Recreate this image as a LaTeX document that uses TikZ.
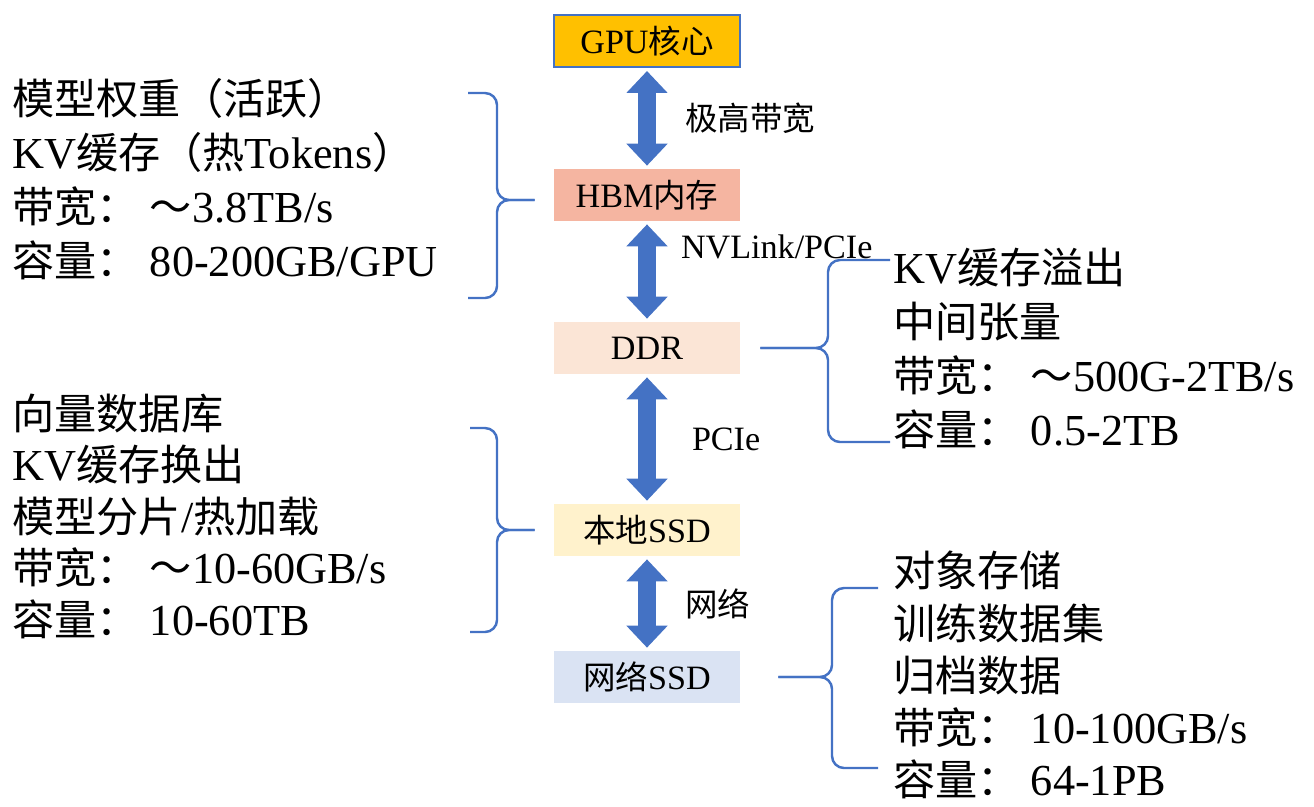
\documentclass[tikz,border=0pt]{standalone}
\usepackage{fontspec}
\setmainfont{Liberation Serif}[Scale=1.05]
\newfontfamily\cjk{Noto Sans CJK SC}
\newcommand{\zh}[1]{{\cjk #1}}
\newcommand{\colonsp}{\zh{：}\hspace{0.25em}}
\usepackage{tikz}
\usetikzlibrary{arrows.meta, positioning, calc}

\definecolor{linkblue}{HTML}{4472C4}
\definecolor{gpufill}{HTML}{FFC000}
\definecolor{hbmfill}{HTML}{F5B5A1}
\definecolor{ddrfill}{HTML}{FBE5D6}
\definecolor{localfill}{HTML}{FFF2CC}
\definecolor{netfill}{HTML}{DAE3F3}

\begin{document}
\begin{tikzpicture}[
    x=0.02cm, y=-0.02cm,
    % Styles
    tierbox/.style={rectangle, minimum width=3.72cm, minimum height=1.04cm, inner sep=0pt, font=\fontsize{18.5}{21}\selectfont},
    linkarrow/.style={{Triangle[width=0.8cm 0, length=0.44cm 0 0]}-{Triangle[width=0.8cm 0, length=0.44cm 0 0]}, line width=0.36cm, color=linkblue, shorten <=0.06cm, shorten >=0.06cm},
    linklabel/.style={font=\fontsize{18.5}{21}\selectfont, anchor=west, inner sep=0pt},
    infotext/.style={align=left, anchor=base west, inner sep=0pt},
    bracket/.style={draw=linkblue, line width=1.4pt, rounded corners=0.24cm}
]
\useasboundingbox (0,0) rectangle (1314,806);

% Memory tiers
\node[tierbox, fill=gpufill, draw=linkblue, line width=0.04cm] (gpu) at (647,41) {GPU\zh{核心}};
\node[tierbox, fill=hbmfill] (hbm) at (647,195) {HBM\zh{内存}};
\node[tierbox, fill=ddrfill] (ddr) at (647,348) {DDR};
\node[tierbox, fill=localfill] (localssd) at (647,530) {\zh{本地}SSD};
\node[tierbox, fill=netfill] (netssd) at (647,677) {\zh{网络}SSD};

% Links between tiers
\draw[linkarrow] (gpu.south) -- (hbm.north) node[linklabel, midway, xshift=0.58cm, text=black] {\zh{极高带宽}};
\draw[linkarrow] (hbm.south) -- (ddr.north) node[linklabel, pos=0.25, xshift=0.5cm, text=black] {NVLink/PCIe};
\draw[linkarrow] (ddr.south) -- (localssd.north) node[linklabel, midway, xshift=0.72cm, text=black] {PCIe};
\draw[linkarrow] (localssd.south) -- (netssd.north) node[linklabel, midway, xshift=0.58cm, text=black] {\zh{网络}};

% Notes (base = last line)
\node[infotext, font=\fontsize{24}{30.7}\selectfont] (hbmnote) at (12,276) {\zh{模型权重（活跃）}\\
    KV\zh{缓存（热}Tokens\zh{）}\\
    \zh{带宽}\colonsp\zh{～}3.8TB/s\\
    \zh{容量}\colonsp 80-200GB/GPU};
\node[infotext, font=\fontsize{24}{30.7}\selectfont] (ddrnote) at (893,445) {KV\zh{缓存溢出}\\
    \zh{中间张量}\\
    \zh{带宽}\colonsp\zh{～}500G-2TB/s\\
    \zh{容量}\colonsp 0.5-2TB};
\node[infotext, font=\fontsize{24}{29.3}\selectfont] (localnote) at (12,635) {\zh{向量数据库}\\
    KV\zh{缓存换出}\\
    \zh{模型分片}/\zh{热加载}\\
    \zh{带宽}\colonsp\zh{～}10-60GB/s\\
    \zh{容量}\colonsp 10-60TB};
\node[infotext, font=\fontsize{24}{29.6}\selectfont] (netnote) at (893,795) {\zh{对象存储}\\
    \zh{训练数据集}\\
    \zh{归档数据}\\
    \zh{带宽}\colonsp 10-100GB/s\\
    \zh{容量}\colonsp 64-1PB};

% Braces
\coordinate (hbmtip) at ($(hbm.west)+(-19,5)$);
\draw[bracket] (468,93) -| (497,200) -- (hbmtip);
\draw[bracket] (468,298) -| (497,200) -- (hbmtip);

\coordinate (ddrtip) at ($(ddr.east)+(20,0)$);
\draw[bracket] (890,260) -| (828,348) -- (ddrtip);
\draw[bracket] (890,442) -| (828,348) -- (ddrtip);

\coordinate (localtip) at ($(localssd.west)+(-19,0)$);
\draw[bracket] (470,428) -| (497,530) -- (localtip);
\draw[bracket] (470,632) -| (497,530) -- (localtip);

\coordinate (nettip) at ($(netssd.east)+(38,0)$);
\draw[bracket] (878,588) -| (832,677) -- (nettip);
\draw[bracket] (878,768) -| (832,677) -- (nettip);

\end{tikzpicture}
\end{document}
